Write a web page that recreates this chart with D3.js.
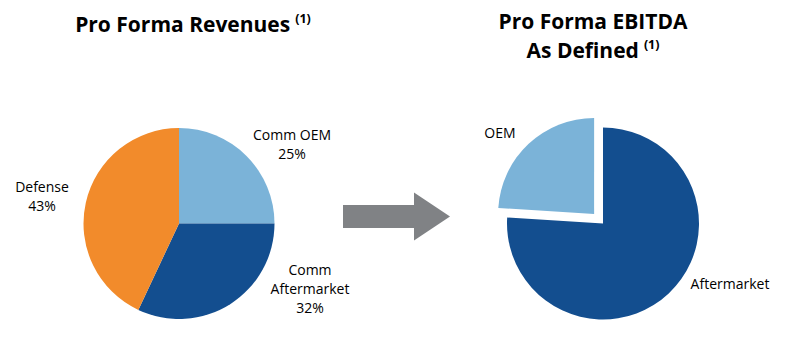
<!DOCTYPE html>
<html><head><meta charset="utf-8">
<script src="https://cdn.jsdelivr.net/npm/d3@7"></script>
<style>
html,body{margin:0;padding:0;background:#fff;}
svg{display:block;}
</style></head>
<body>
<svg id="chart" width="800" height="359"></svg>
<script>
// ---- data ----
const revenueCategories = ["Comm OEM", "Comm Aftermarket", "Defense"];
const revenueValues = [25, 32, 43];
const ebitdaCategories = ["Aftermarket", "OEM"];
const ebitdaValues = [76, 24];
const titles = ["Pro Forma Revenues", "Pro Forma EBITDA", "As Defined"];
const footnoteMark = "(1)";

// ---- style / layout ----
const colors = {"Comm OEM":"#7bb3d8","OEM":"#7bb3d8","Comm Aftermarket":"#134e8f","Aftermarket":"#134e8f","Defense":"#f28b2b"};
const titleFont = "'Open Sans', sans-serif";
const labelFont = "'Open Sans', sans-serif";

const svg = d3.select("#chart");

function drawPie(cx, cy, r, cats, vals, explode) {
  const data = cats.map((c,i)=>({cat:c, v:vals[i]}));
  const pie = d3.pie().value(d=>d.v).sort(null);
  const arc = d3.arc().innerRadius(0).outerRadius(r);
  const g = svg.append("g").attr("transform",`translate(${cx},${cy})`);
  g.selectAll("path").data(pie(data)).join("path")
    .attr("d", arc)
    .attr("fill", d=>colors[d.data.cat])
    .attr("transform", d=>{
      const off = explode[d.data.cat] || 0;
      const a = (d.startAngle + d.endAngle)/2;
      return `translate(${off*Math.sin(a)},${-off*Math.cos(a)})`;
    });
  return g;
}

drawPie(179, 223.5, 95.5, revenueCategories, revenueValues, {});
drawPie(603, 223.5, 96, ebitdaCategories, ebitdaValues, {"OEM":13});

// arrow
svg.append("path")
  .attr("d", "M343,205 L414,205 L414,192.5 L450,216.5 L414,240.5 L414,228 L343,228 Z")
  .attr("fill","#808285");

// titles
function title(x, y, text, sup) {
  const t = svg.append("text").attr("x",x).attr("y",y).attr("text-anchor","middle")
    .attr("font-family",titleFont).attr("font-weight","bold").attr("font-size",21).attr("fill","#000");
  t.append("tspan").text(text);
  if (sup) t.append("tspan").attr("font-size",12.5).attr("dy",-9).attr("dx",5).text(sup);
}
title(193, 32, titles[0], footnoteMark);
title(593, 29, titles[1]);
title(593, 58, titles[2], footnoteMark);

// labels
function label(x, y, lines) {
  const t = svg.append("text").attr("text-anchor","middle")
    .attr("font-family",labelFont).attr("font-size",14).attr("fill","#000");
  lines.forEach((l,i)=> t.append("tspan").attr("x",x).attr("y",y+i*19).text(l));
}
label(292, 140, [revenueCategories[0], revenueValues[0]+"%"]);
label(310, 275, ["Comm", "Aftermarket", revenueValues[1]+"%"]);
label(42, 192, [revenueCategories[2], revenueValues[2]+"%"]);
label(500, 138, [ebitdaCategories[1]]);
label(730, 289, [ebitdaCategories[0]]);
</script>
</body></html>
